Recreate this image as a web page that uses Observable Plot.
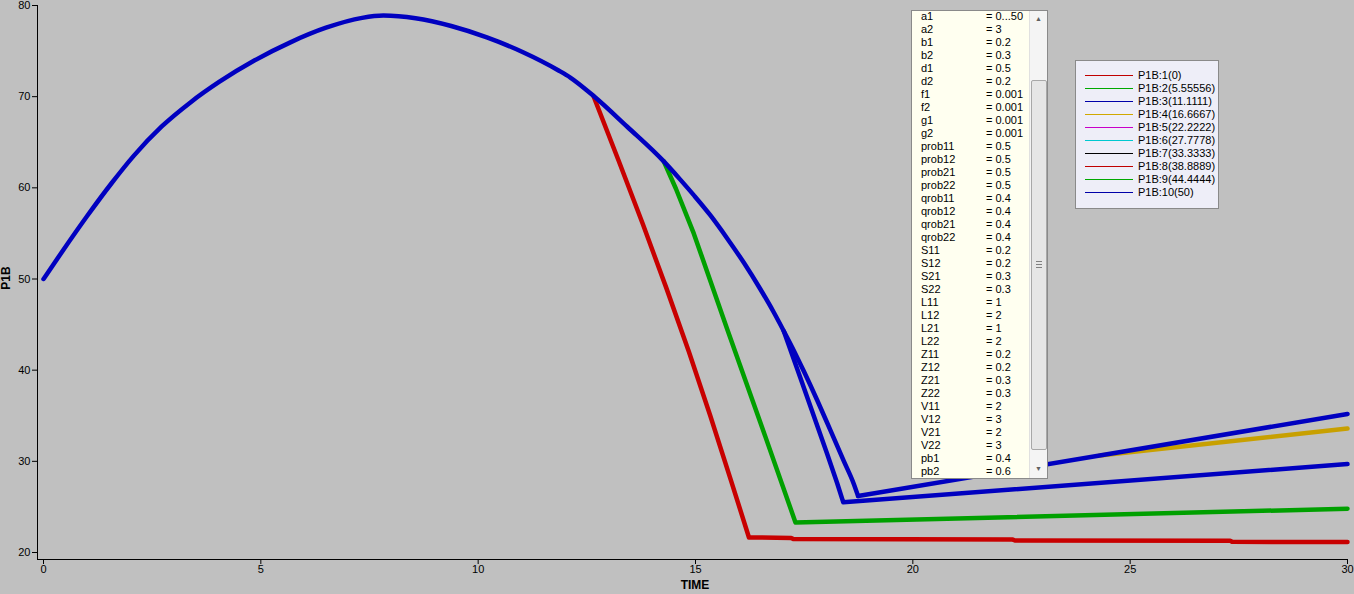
<!DOCTYPE html>
<html>
<head>
<meta charset="utf-8">
<script src="https://cdn.jsdelivr.net/npm/d3@7"></script>
<script src="https://cdn.jsdelivr.net/npm/@observablehq/plot@0.6"></script>
<style>
  html, body { margin: 0; padding: 0; background: #c0c0c0; }
  #wrap { position: relative; width: 1354px; height: 594px; overflow: hidden; font-family: "Liberation Sans", Arial, sans-serif; }
  .ov { position: absolute; }
  #params { left: 911px; top: 10px; width: 135px; height: 467px; background: #fffff0; border: 1px solid #8a8a8a; overflow: hidden; }
  #params .row { position: absolute; left: 9px; height: 13px; line-height: 13px; font-size: 11px; color: #000; white-space: nowrap; }
  #params .val { position: absolute; left: 65px; }
  #sb { position: absolute; right: 0; top: 0; width: 17px; height: 100%; background: #f4f4f4; border-left: 1px solid #e0e0e0; }
  #thumb { position: absolute; left: 1px; top: 69px; width: 14px; height: 368px; background: #e6e6e6; border: 1px solid #a8a8a8; border-radius: 2px; }
  .grip { position: absolute; left: 4px; width: 6px; height: 1px; background: #808080; }
  .arr { position: absolute; left: 0; width: 17px; text-align: center; font-size: 7px; color: #606060; }
  #legend { left: 1075px; top: 60px; width: 142px; height: 147px; background: #eeeef8; border: 1px solid #8a8a8a; }
  #legend .lrow { position: absolute; left: 0; height: 13px; width: 140px; font-size: 11px; line-height: 13px; color: #000; }
  #legend .sw { position: absolute; left: 9px; top: 6px; width: 48px; height: 1px; }
  #legend .lt { position: absolute; left: 62px; top: 0; white-space: nowrap; }
  .atitle { font-weight: bold; font-size: 12px; color: #000; white-space: nowrap; }
</style>
</head>
<body>
<div id="wrap">
  <div id="chart"></div>
</div>
<script>
// ---------- data ----------
// shared smooth trajectory (P1B:5..P1B:10 follow it throughout)
const trunkTime = [0, 0.42, 1.0, 1.57, 2.07, 2.72, 3.38, 4.04, 4.86, 5.68, 6.5, 7.33, 7.82, 8.56, 9.38, 10.2, 11.02, 11.84, 12.12, 12.65, 13.43, 14.27, 14.65, 14.96, 15.34, 15.73, 16.11, 16.49, 16.80, 17.03, 17.22, 17.49, 17.80, 18.10, 18.41, 18.64, 18.74];
const trunkP1B  = [50.0, 52.94, 56.88, 60.53, 63.48, 66.73, 69.37, 71.61, 73.99, 75.96, 77.56, 78.64, 78.89, 78.6, 77.75, 76.5, 74.9, 72.9, 72.1, 70.1, 66.7, 62.9, 60.9, 59.2, 57.0, 54.45, 51.8, 48.9, 46.35, 44.3, 42.55, 39.9, 36.7, 33.45, 30.05, 27.55, 26.2];
// straight rising part after the minimum
const tailTime = [18.74, 24.3, 30];
const tailP1B  = [26.2, 30.64, 35.2];

// branches where a series leaves the shared trajectory (first point = departure)
const s1Time = [12.65, 13.23, 13.79, 14.33, 14.85, 15.34, 15.81, 16.23, 17.2, 17.25, 22.3, 22.35, 27.3, 27.35, 30];
const s1P1B  = [70.1, 63.0, 56.0, 49.0, 42.0, 35.0, 28.0, 21.65, 21.6, 21.47, 21.42, 21.32, 21.28, 21.17, 21.15];
const s2Time = [14.27, 14.55, 14.96, 15.73, 16.49, 17.3, 30];
const s2P1B  = [62.9, 59.9, 55.0, 44.5, 34.3, 23.3, 24.8];
const s3Time = [17.03, 17.41, 17.72, 18.03, 18.26, 18.40, 30];
const s3P1B  = [44.3, 39.2, 35.0, 30.8, 27.6, 25.5, 29.7];
const s4Time = [24.3, 30];
const s4P1B  = [30.64, 33.6];

const seriesNames = ["P1B:1(0)", "P1B:2(5.55556)", "P1B:3(11.1111)", "P1B:4(16.6667)", "P1B:5(22.2222)",
                     "P1B:6(27.7778)", "P1B:7(33.3333)", "P1B:8(38.8889)", "P1B:9(44.4444)", "P1B:10(50)"];
const lineColors   = ["#c80000", "#00a000", "#0000c0", "#c8a000", "#c000c0", "#00c0c0", "#000000", "#c80000", "#00a000", "#0000c0"];
const legendColors = ["#c00000", "#00a800", "#0000a8", "#d0a800", "#c800c8", "#00c8d0", "#000000", "#c00000", "#00a800", "#0000a8"];

const xTicks = [0, 5, 10, 15, 20, 25, 30];
const yTicks = [20, 30, 40, 50, 60, 70, 80];

const paramNames  = ["a1","a2","b1","b2","d1","d2","f1","f2","g1","g2","prob11","prob12","prob21","prob22",
                     "qrob11","qrob12","qrob21","qrob22","S11","S12","S21","S22","L11","L12","L21","L22",
                     "Z11","Z12","Z21","Z22","V11","V12","V21","V22","pb1","pb2"];
const paramValues = ["0...50","3","0.2","0.3","0.5","0.2","0.001","0.001","0.001","0.001","0.5","0.5","0.5","0.5",
                     "0.4","0.4","0.4","0.4","0.2","0.2","0.3","0.3","1","2","1","2",
                     "0.2","0.2","0.3","0.3","2","3","2","3","0.4","0.6"];

// ---------- build tables ----------
const branches = [[s1Time, s1P1B], [s2Time, s2P1B], [s3Time, s3P1B], [s4Time, s4P1B]];
const branchRows = [];
branches.forEach(([ts, vs], i) => ts.forEach((t, j) => branchRows.push({series: seriesNames[i], t, v: vs[j]})));
const topSeries = seriesNames[seriesNames.length - 1];
const trunkRows = trunkTime.map((t, j) => ({series: topSeries, t, v: trunkP1B[j]}));
const tailRows  = tailTime.map((t, j) => ({series: topSeries, t, v: tailP1B[j]}));

const lineOpts = {x: "t", y: "v", z: "series", stroke: "series", strokeWidth: 4.5, strokeLinejoin: "round", strokeLinecap: "round"};

const chart = Plot.plot({
  width: 1354,
  height: 594,
  marginLeft: 37,
  marginRight: 7,
  marginTop: 5,
  marginBottom: 35,
  style: {background: "transparent", fontFamily: "Liberation Sans, Arial, sans-serif", fontSize: "11px", color: "#000"},
  x: {domain: [0, 30], insetLeft: 6, label: null},
  y: {domain: [20, 80], insetBottom: 7, label: null},
  color: {domain: seriesNames, range: lineColors},
  marks: [
    Plot.axisX({ticks: xTicks, tickSize: 5, tickPadding: 1, label: null, tickFormat: d => String(d)}),
    Plot.axisY({ticks: yTicks, tickSize: 5, tickPadding: 2, label: null, tickFormat: d => String(d)}),
    Plot.ruleX([0], {dx: -6, stroke: "#000"}),
    Plot.ruleY([20], {dy: 7, stroke: "#000"}),
    Plot.line(branchRows, lineOpts),
    Plot.line(trunkRows, {...lineOpts, curve: "monotone-x"}),
    Plot.line(tailRows, lineOpts)
  ]
});
const wrap = document.getElementById("wrap");
document.getElementById("chart").appendChild(chart);

// axis titles
const tx = document.createElement("div");
tx.className = "ov atitle";
tx.textContent = "TIME";
tx.style.left = "695px"; tx.style.top = "585px"; tx.style.transform = "translate(-50%,-50%)";
wrap.appendChild(tx);
const ty = document.createElement("div");
ty.className = "ov atitle";
ty.textContent = "P1B";
ty.style.left = "6px"; ty.style.top = "278px"; ty.style.transform = "translate(-50%,-50%) rotate(-90deg)";
wrap.appendChild(ty);

// parameter list box
const pb = document.createElement("div");
pb.id = "params"; pb.className = "ov";
paramNames.forEach((n, i) => {
  const r = document.createElement("div");
  r.className = "row";
  r.style.top = (i * 13 - 1) + "px";
  r.textContent = n;
  const v = document.createElement("span");
  v.className = "val";
  v.textContent = "= " + paramValues[i];
  r.appendChild(v);
  pb.appendChild(r);
});
const sb = document.createElement("div"); sb.id = "sb";
const up = document.createElement("div"); up.className = "arr"; up.style.top = "4px"; up.textContent = "\u25B2";
const dn = document.createElement("div"); dn.className = "arr"; dn.style.bottom = "6px"; dn.textContent = "\u25BC";
const th = document.createElement("div"); th.id = "thumb";
[-3, 0, 3].forEach(d => { const g = document.createElement("div"); g.className = "grip"; g.style.top = (183 + d) + "px"; th.appendChild(g); });
sb.appendChild(up); sb.appendChild(th); sb.appendChild(dn);
pb.appendChild(sb);
wrap.appendChild(pb);

// legend
const lg = document.createElement("div");
lg.id = "legend"; lg.className = "ov";
seriesNames.forEach((n, i) => {
  const r = document.createElement("div");
  r.className = "lrow";
  r.style.top = (8 + i * 13) + "px";
  const sw = document.createElement("div");
  sw.className = "sw"; sw.style.background = legendColors[i];
  const t = document.createElement("div");
  t.className = "lt"; t.textContent = n;
  r.appendChild(sw); r.appendChild(t);
  lg.appendChild(r);
});
wrap.appendChild(lg);
</script>
</body>
</html>
